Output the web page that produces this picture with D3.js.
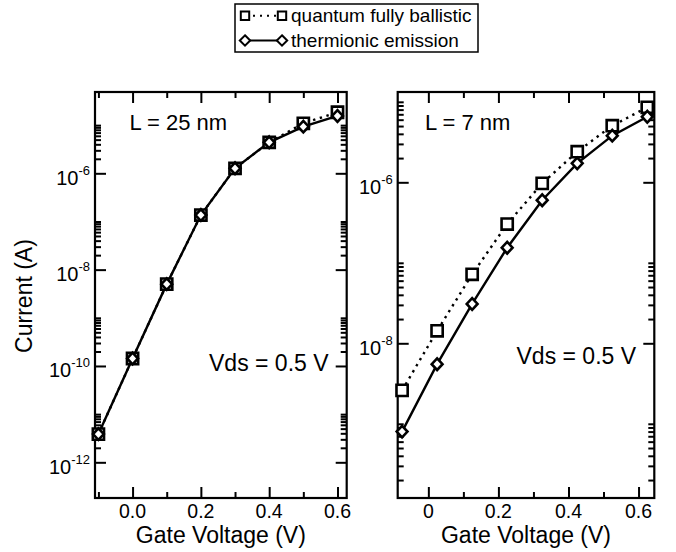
<!DOCTYPE html>
<html>
<head>
<meta charset="utf-8">
<script src="https://cdn.jsdelivr.net/npm/d3@7"></script>
<style>
  body { margin: 0; background: #fff; }
  text { font-family: "Liberation Sans", Arial, Helvetica, sans-serif; fill: #000; }
</style>
</head>
<body>
<svg id="chart" width="676" height="552"></svg>
<script>
// Gate voltage sweeps (V)
const gateVoltage25 = [-0.1, 0.0, 0.1, 0.2, 0.3, 0.4, 0.5, 0.6];
const gateVoltage7  = [-0.075, 0.025, 0.125, 0.225, 0.325, 0.425, 0.525, 0.625];

// Drain current (A), L = 25 nm
const ballistic25  = [3.85e-12, 1.43e-10, 5.0e-9, 1.36e-7, 1.27e-6, 4.4e-6, 1.09e-5, 1.85e-5];
const thermionic25 = [3.85e-12, 1.43e-10, 5.0e-9, 1.36e-7, 1.27e-6, 4.4e-6, 9.3e-6, 1.55e-5];

// Drain current (A), L = 7 nm
const ballistic7  = [2.6e-9, 1.43e-8, 7.2e-8, 3.03e-7, 9.7e-7, 2.4e-6, 5.05e-6, 8.55e-6];
const thermionic7 = [8.0e-10, 5.5e-9, 3.08e-8, 1.54e-7, 6.0e-7, 1.72e-6, 3.8e-6, 6.53e-6];

// Axis ticks
const xMajorTicks = [0.0, 0.2, 0.4, 0.6];
const xMinorTicks = [-0.1, 0.1, 0.3, 0.5];
const xTickLabels25 = ["0.0", "0.2", "0.4", "0.6"];
const xTickLabels7  = ["0", "0.2", "0.4", "0.6"];
const yMajorExponents25 = [-12, -10, -8, -6];
const yMajorExponents7  = [-8, -6];

const seriesNames = ["quantum fully ballistic", "thermionic emission"];
const panelTitles = ["L = 25 nm", "L = 7 nm"];
const biasLabel = "Vds = 0.5 V";
const xAxisTitle = "Gate Voltage (V)";
const yAxisTitle = "Current (A)";

const svg = d3.select("#chart");
const FONT_TICK = 19.5, FONT_SUP = 13;
const MAJOR = 11, MINOR = 6;

function squarePath(h) { return `M${-h},${-h}H${h}V${h}H${-h}Z`; }
function diamondPath(w, h) { return `M0,${-h}L${w},0L0,${h}L${-w},0Z`; }

const panels = [
  {
    left: 95, right: 346.7, top: 92, bottom: 498,
    xDomain: [-0.11, 0.627], yLog: [-12.741, -4.312],
    volts: gateVoltage25, ballistic: ballistic25, thermionic: thermionic25,
    exps: yMajorExponents25, xLabels: xTickLabels25,
    title: panelTitles[0], titlePos: [129.5, 130], biasPos: [209, 371]
  },
  {
    left: 397.7, right: 654.3, top: 92, bottom: 498,
    xDomain: [-0.0875, 0.645], yLog: [-9.922, -4.878],
    volts: gateVoltage7, ballistic: ballistic7, thermionic: thermionic7,
    exps: yMajorExponents7, xLabels: xTickLabels7,
    title: panelTitles[1], titlePos: [425, 130], biasPos: [516.5, 364]
  }
];

panels.forEach(p => {
  const x = d3.scaleLinear().domain(p.xDomain).range([p.left, p.right]);
  const y = d3.scaleLog().domain([Math.pow(10, p.yLog[0]), Math.pow(10, p.yLog[1])]).range([p.bottom, p.top]);
  const g = svg.append("g");

  // log minor ticks: 2..10 times each labelled decade
  const yMinor = [];
  for (let e = Math.floor(p.yLog[0]) - 2; e <= Math.ceil(p.yLog[1]); e += 1) {
    if (((e % 2) + 2) % 2 !== 0) continue;
    for (let k = 2; k <= 10; k++) {
      const v = k * Math.pow(10, e);
      const lv = Math.log10(v);
      if (lv > p.yLog[0] && lv < p.yLog[1]) yMinor.push(v);
    }
  }
  const yMajor = p.exps.map(e => Math.pow(10, e));
  const xMinor = xMinorTicks.filter(v => v > p.xDomain[0] && v < p.xDomain[1]);

  const axes = [
    [d3.axisBottom(x).tickValues(xMajorTicks).tickSizeInner(-MAJOR), `translate(0,${p.bottom})`],
    [d3.axisBottom(x).tickValues(xMinor).tickSizeInner(-MINOR), `translate(0,${p.bottom})`],
    [d3.axisTop(x).tickValues(xMajorTicks).tickSizeInner(-MAJOR), `translate(0,${p.top})`],
    [d3.axisTop(x).tickValues(xMinor).tickSizeInner(-MINOR), `translate(0,${p.top})`],
    [d3.axisLeft(y).tickValues(yMajor).tickSizeInner(-MAJOR), `translate(${p.left},0)`],
    [d3.axisLeft(y).tickValues(yMinor).tickSizeInner(-MINOR), `translate(${p.left},0)`],
    [d3.axisRight(y).tickValues(yMajor).tickSizeInner(-MAJOR), `translate(${p.right},0)`],
    [d3.axisRight(y).tickValues(yMinor).tickSizeInner(-MINOR), `translate(${p.right},0)`]
  ];
  axes.forEach(([ax, tr]) => {
    const a = g.append("g").attr("transform", tr)
      .call(ax.tickSizeOuter(0).tickFormat(""));
    a.select(".domain").remove();
    a.selectAll("line").attr("stroke", "#000").attr("stroke-width", 2);
  });

  // frame
  g.append("rect")
    .attr("x", p.left).attr("y", p.top)
    .attr("width", p.right - p.left).attr("height", p.bottom - p.top)
    .attr("fill", "none").attr("stroke", "#000").attr("stroke-width", 2.2);

  // x tick labels
  g.selectAll(".xl").data(xMajorTicks).join("text")
    .attr("x", d => x(d)).attr("y", p.bottom + 20)
    .attr("text-anchor", "middle").attr("font-size", FONT_TICK)
    .text((d, i) => p.xLabels[i]);

  // y tick labels with superscript exponents
  p.exps.forEach(e => {
    const t = g.append("text")
      .attr("x", p.left - 5).attr("y", y(Math.pow(10, e)) + 11.5)
      .attr("text-anchor", "end").attr("font-size", 20);
    t.append("tspan").text("10");
    t.append("tspan").attr("font-size", FONT_SUP).attr("dy", -10).text(String(e));
  });

  // axis title
  g.append("text")
    .attr("x", (p.left + p.right) / 2).attr("y", p.bottom + 45)
    .attr("text-anchor", "middle").attr("font-size", 23)
    .text(xAxisTitle);

  // annotations
  g.append("text").attr("x", p.titlePos[0]).attr("y", p.titlePos[1])
    .attr("font-size", 22).text(p.title);
  g.append("text").attr("x", p.biasPos[0]).attr("y", p.biasPos[1])
    .attr("font-size", 23).text(biasLabel);

  // curves
  const line = d3.line().x(d => x(d[0])).y(d => y(d[1]));
  const bal = p.volts.map((v, i) => [v, p.ballistic[i]]);
  const the = p.volts.map((v, i) => [v, p.thermionic[i]]);

  g.append("path").datum(bal).attr("d", line)
    .attr("fill", "none").attr("stroke", "#000").attr("stroke-width", 2.4)
    .attr("stroke-dasharray", "2.4,4.6");
  g.append("path").datum(the).attr("d", line)
    .attr("fill", "none").attr("stroke", "#000").attr("stroke-width", 2.4);

  g.selectAll(".sq").data(bal).join("path")
    .attr("transform", d => `translate(${x(d[0])},${y(d[1])})`)
    .attr("d", squarePath(5.6))
    .attr("fill", "#fff").attr("stroke", "#000").attr("stroke-width", 2.6);
  g.selectAll(".dm").data(the).join("path")
    .attr("transform", d => `translate(${x(d[0])},${y(d[1])})`)
    .attr("d", diamondPath(5.4, 5.8))
    .attr("fill", "#fff").attr("stroke", "#000").attr("stroke-width", 2.6);
});

// y axis title
svg.append("text")
  .attr("transform", "translate(31.5,296) rotate(-90)")
  .attr("text-anchor", "middle").attr("font-size", 23)
  .text(yAxisTitle);

// legend
const lg = svg.append("g");
lg.append("rect").attr("x", 235).attr("y", 4).attr("width", 243).attr("height", 48)
  .attr("fill", "#fff").attr("stroke", "#000").attr("stroke-width", 1.5);
const rows = [
  { y: 15.7, dash: "2,5", shape: squarePath(4.2) },
  { y: 40.5, dash: null, shape: diamondPath(5.2, 5.2) }
];
rows.forEach((r, i) => {
  const l = lg.append("line").attr("x1", 245).attr("x2", 282).attr("y1", r.y).attr("y2", r.y)
    .attr("stroke", "#000").attr("stroke-width", 2);
  if (r.dash) l.attr("stroke-dasharray", r.dash).attr("stroke-dashoffset", -1);
  [245, 282].forEach(cx => {
    lg.append("path").attr("transform", `translate(${cx},${r.y})`).attr("d", r.shape)
      .attr("fill", "#fff").attr("stroke", "#000").attr("stroke-width", 2);
  });
  lg.append("text").attr("x", 291).attr("y", r.y + 6).attr("font-size", 19)
    .text(seriesNames[i]);
});
</script>
</body>
</html>
